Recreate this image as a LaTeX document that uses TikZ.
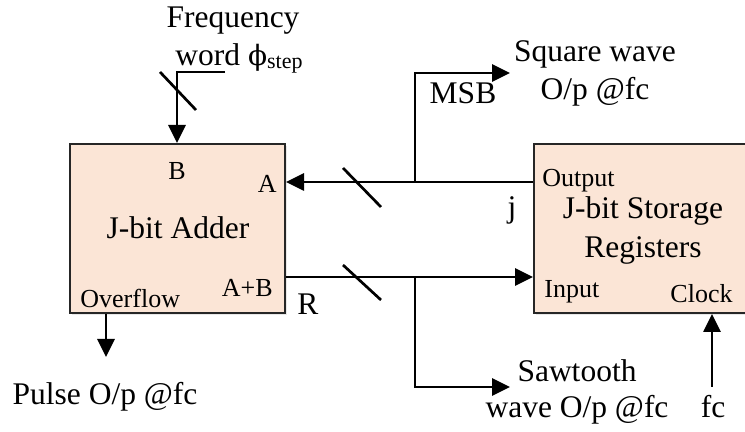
\documentclass[tikz,border=0pt]{standalone}
\usepackage{fontspec}
\setmainfont{Liberation Serif}
\newfontfamily\phifont{DejaVu Serif}
\usetikzlibrary{arrows.meta,shadows}
\definecolor{peach}{HTML}{FBE5D6}
\begin{document}
\begin{tikzpicture}[x=0.5pt,y=-0.5pt,
  wire/.style={line width=1.35pt,draw=black},
  arr/.style={wire,-{Triangle[length=9pt,width=8.5pt]}},
  blk/.style={draw=black!85,line width=1pt,fill=peach,inner sep=0pt,
    drop shadow={opacity=0.18,shadow xshift=1pt,shadow yshift=-1.2pt}},
  lg/.style={font=\fontsize{15.75}{18}\selectfont,inner sep=0pt},
  sm/.style={font=\fontsize{13}{15}\selectfont,inner sep=0pt}]
\useasboundingbox (0,0) rectangle (745,432);

% blocks
\node[blk,minimum width=107.5pt,minimum height=84.5pt] (adder) at (177.5,228.5) {};
\node[blk,minimum width=106pt,minimum height=84.5pt] (store) at (640,228.5) {};

% helper coordinates
\coordinate (yA) at (0,182);
\coordinate (yR) at (0,277);
\coordinate (br) at (415,182);
\coordinate (msbend) at (415,73);
\coordinate (sqtip) at (510,73);
\coordinate (bs) at (415,277);
\coordinate (sawend) at (415,387);
\coordinate (sawtip) at (510,387);
\coordinate (fwend) at (225,72);
\coordinate (fwcorner) at (177,72);
\coordinate (ovtip) at (106,357);
\coordinate (clkstart) at (712,387);

% connectors
\draw[arr] (store.west |- yA) -- (adder.east |- yA);
\draw[arr] (adder.east |- yR) -- (store.west |- yR);
\draw[arr] (br) -- (msbend) -- (sqtip);
\draw[arr] (bs) -- (sawend) -- (sawtip);
\draw[arr] (fwend) -- (fwcorner) -- (adder.north -| fwcorner);
\draw[arr] (adder.south -| ovtip) -- (ovtip);
\draw[arr] (clkstart) -- (store.south -| clkstart);

% bus slashes
\coordinate (s1a) at (343,168); \coordinate (s1b) at (381,207);
\coordinate (s2a) at (343,265); \coordinate (s2b) at (381,300);
\coordinate (s3a) at (160,72);  \coordinate (s3b) at (196,110);
\draw[wire] (s1a) -- (s1b);
\draw[wire] (s2a) -- (s2b);
\draw[wire] (s3a) -- (s3b);

% adder labels
\node[sm,anchor=base] (lB) at (177,180) {B};
\node[sm,anchor=base east] (lA) at (277,193) {A};
\node[lg,anchor=base] (lAdd) at (178,239) {J-bit Adder};
\node[sm,anchor=base east] (lAB) at (273,297) {A+B};
\node[sm,anchor=base west] (lOv) at (80,308) {Overflow};

% storage labels
\node[sm,anchor=base west] (lOut) at (542,187) {Output};
\node[lg,anchor=base] (lSt1) at (643,219) {J-bit Storage};
\node[lg,anchor=base] (lSt2) at (643,258) {Registers};
\node[sm,anchor=base west] (lIn) at (544,298) {Input};
\node[sm,anchor=base east] (lClk) at (733,303) {Clock};

% outside labels
\node[lg,anchor=base] (lFreq) at (233,28) {Frequency};
\node[lg,anchor=base west] (lWord) at (175,66) {word {\phifont\fontsize{14}{16}\selectfont ϕ}\raisebox{-1.5pt}{\fontsize{11}{13}\selectfont step}};
\node[lg,anchor=base] (lSq1) at (595,62) {Square wave};
\node[lg,anchor=base] (lSq2) at (595,100) {O/p @fc};
\node[lg,anchor=base] (lMSB) at (463,104) {MSB};
\node[lg,anchor=base] (lj) at (512,218) {j};
\node[lg,anchor=base] (lR) at (308,315) {R};
\node[lg,anchor=base] (lPulse) at (105,405) {Pulse O/p @fc};
\node[lg,anchor=base] (lSaw1) at (577,382) {Sawtooth};
\node[lg,anchor=base] (lSaw2) at (577,418) {wave O/p @fc};
\node[lg,anchor=base] (lfc) at (713,418) {fc};
\end{tikzpicture}
\end{document}
